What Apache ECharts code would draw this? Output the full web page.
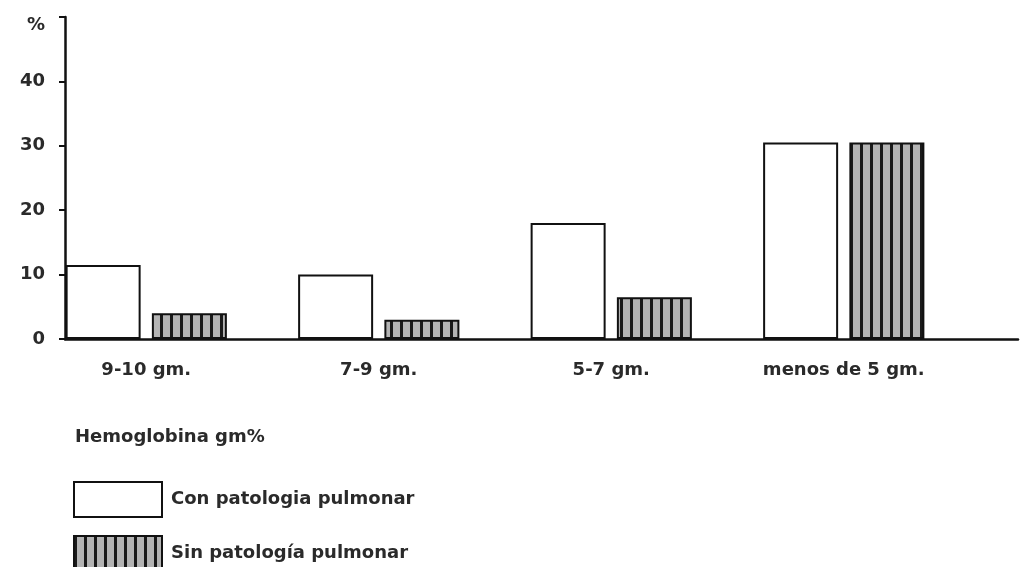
<!DOCTYPE html>
<html>
<head>
<meta charset="utf-8">
<script src="https://cdn.jsdelivr.net/npm/echarts@6/dist/echarts.min.js"></script>
<style>
html,body{margin:0;padding:0;background:#fff;}
#chart{width:1023px;height:567px;}
</style>
</head>
<body>
<div id="chart"></div>
<script>
// ---- data ----
var categories = ['9-10 gm.', '7-9 gm.', '5-7 gm.', 'menos de 5 gm.'];
var seriesNames = ['Con patologia pulmonar', 'Sin patología pulmonar'];
var conPatologia = [11.5, 10, 18, 30.5];
var sinPatologia = [4, 3, 6.5, 30.5];
var yTickValues = [0, 10, 20, 30, 40, 50];
var yTickLabels = ['0', '10', '20', '30', '40', '%'];
var xTitle = 'Hemoglobina gm%';

// ---- hatch pattern ----
function makeHatch() {
  var c = document.createElement('canvas');
  c.width = 10; c.height = 10;
  var ctx = c.getContext('2d');
  ctx.fillStyle = '#b4b4b4';
  ctx.fillRect(0, 0, 10, 10);
  ctx.fillStyle = '#1a1a1a';
  ctx.fillRect(0, 0, 3, 10);
  return c;
}
var hatch = { image: makeHatch(), repeat: 'repeat' };

var FONT = 'DejaVu Sans';
var TXT = '#2a2a2a';
var chart = echarts.init(document.getElementById('chart'), null, { renderer: 'canvas' });

function legendFor(name, top) {
  return {
    orient: 'vertical',
    left: 68, top: top,
    itemWidth: 88, itemHeight: 35,
    icon: 'rect',
    selectedMode: false,
    textStyle: { fontFamily: FONT, fontSize: 18, fontWeight: 'bold', color: TXT, padding: [0, 0, 0, 4] },
    data: [name]
  };
}

var option = {
  backgroundColor: '#ffffff',
  animation: false,
  textStyle: { fontFamily: FONT, color: TXT },
  title: {
    text: xTitle,
    left: 70, top: 423,
    textStyle: { fontFamily: FONT, fontSize: 18, fontWeight: 'bold', color: TXT }
  },
  legend: [legendFor(seriesNames[0], 476), legendFor(seriesNames[1], 530)],
  grid: [
    { left: 65, right: 5, top: 17, bottom: 228, containLabel: false },
    { left: 30, right: 63, top: 17, bottom: 228, containLabel: false }
  ],
  xAxis: [
    {
      gridIndex: 0, type: 'value', min: 0, max: 1,
      axisLine: { show: true, lineStyle: { color: '#111', width: 2.5 } },
      axisTick: { show: false }, axisLabel: { show: false }, splitLine: { show: false }
    },
    {
      gridIndex: 1, type: 'category', data: categories,
      axisLine: { show: false }, axisTick: { show: false }, splitLine: { show: false },
      axisLabel: { fontFamily: FONT, fontSize: 18, fontWeight: 'bold', color: TXT, margin: 22 }
    }
  ],
  yAxis: [
    {
      gridIndex: 0, type: 'value', min: 0, max: 50, interval: 10,
      axisLine: { show: true, lineStyle: { color: '#111', width: 2.5 } },
      axisTick: { show: true, length: 6, lineStyle: { color: '#111', width: 2 } },
      splitLine: { show: false },
      axisLabel: {
        fontFamily: FONT, fontSize: 18, fontWeight: 'bold', color: TXT, margin: 20,
        formatter: function (v) {
          var i = yTickValues.indexOf(v);
          var t = i >= 0 ? yTickLabels[i] : '';
          return t === '%' ? '{p|%}' : t;
        },
        rich: {
          p: { fontFamily: FONT, fontSize: 18, fontWeight: 'bold', color: TXT, padding: [16, 0, 0, 0] }
        }
      }
    },
    {
      gridIndex: 1, type: 'value', min: 0, max: 50, show: false
    }
  ],
  series: [
    {
      name: seriesNames[0], type: 'bar', xAxisIndex: 1, yAxisIndex: 1,
      data: conPatologia, barWidth: 75, barGap: '15%',
      itemStyle: { color: '#ffffff', borderColor: '#111', borderWidth: 2 }
    },
    {
      name: seriesNames[1], type: 'bar', xAxisIndex: 1, yAxisIndex: 1,
      data: sinPatologia, barWidth: 75, barGap: '15%',
      itemStyle: { color: hatch, borderColor: '#111', borderWidth: 2 }
    }
  ]
};
chart.setOption(option);
</script>
</body>
</html>
